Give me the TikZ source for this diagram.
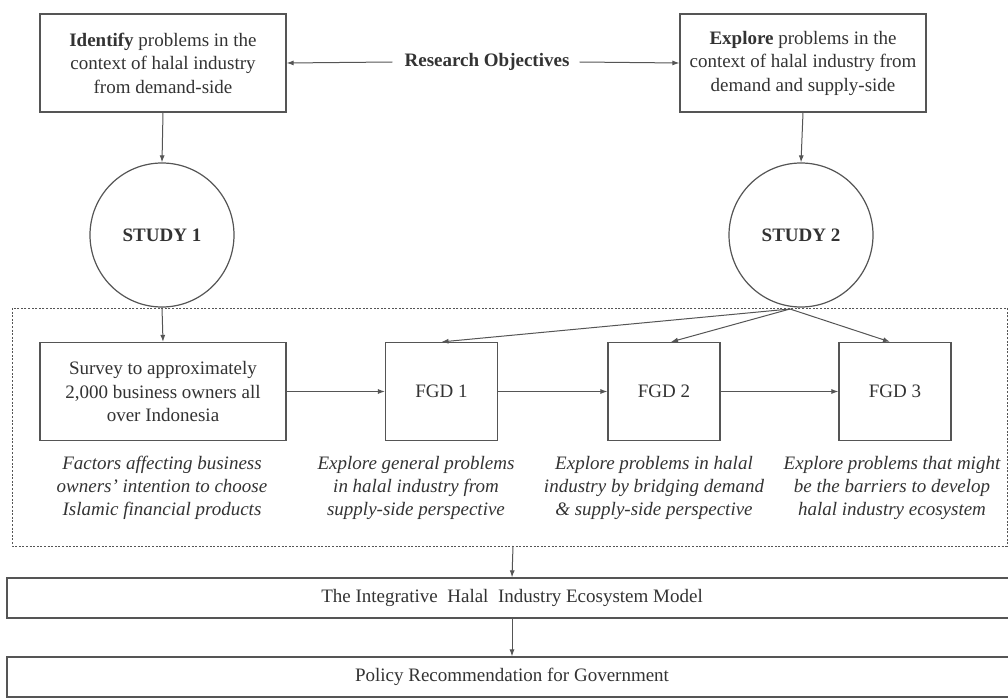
\documentclass[tikz,border=0pt]{standalone}
\usepackage{fontspec}
\setmainfont{Liberation Serif}
\usetikzlibrary{arrows.meta}
\definecolor{ln}{HTML}{555555}
\definecolor{tx}{HTML}{333333}
\tikzset{
  box/.style={draw=ln, line width=1.2pt, minimum width=246pt, minimum height=98pt, align=center, inner sep=0pt, text=tx, font=\fontsize{19}{23.5}\selectfont},
  fgd/.style={draw=ln, line width=1.2pt, minimum width=112pt, minimum height=98pt, align=center, inner sep=0pt, text=tx, font=\fontsize{19}{23.5}\selectfont},
  study/.style={circle, draw=ln, line width=1.2pt, minimum size=144pt, inner sep=0pt, text=tx, font=\fontsize{19}{23.5}\selectfont\bfseries},
  wide/.style={draw=ln, line width=1.2pt, minimum width=1010pt, minimum height=40pt, inner sep=0pt, text=tx, font=\fontsize{19}{23.5}\selectfont},
  lbl/.style={align=center, inner sep=0pt, text=tx, font=\fontsize{19}{23}\selectfont\itshape},
  conn/.style={draw=ln, line width=1pt, -{Latex[length=7pt,width=5pt]}},
}
\begin{document}
\begin{tikzpicture}[x=1pt,y=-1pt]
\useasboundingbox (0,0) rectangle (1008,698);
\fill[white] (0,0) rectangle (1008,698);
% top boxes
\node[box] (ident) at (163,63) {\textbf{Identify} problems in the\\context of halal industry\\from demand-side};
\node[box] (expl) at (803,63) {\textbf{Explore} problems in the\\context of halal industry from\\demand and supply-side};
\node[inner sep=0pt, text=tx, font=\fontsize{19}{23.5}\selectfont\bfseries] (ro) at (487,62) {Research Objectives};
% circles
\node[study] (s1) at (162,235) {STUDY 1};
\node[study] (s2) at (801,235) {STUDY 2};
% dashed frame
\draw[ln, line width=0.9pt, dash pattern=on 2pt off 1.6pt] (12,308) rectangle (1007,546);
\coordinate (frametop) at (513,546);
\coordinate (src) at (790,309);
% lower boxes
\node[box] (survey) at (163,391.5) {Survey to approximately\\2,000 business owners all\\over Indonesia};
\node[fgd] (f1) at (441.5,391.5) {FGD 1};
\node[fgd] (f2) at (664,391.5) {FGD 2};
\node[fgd] (f3) at (895,391.5) {FGD 3};
% labels
\node[lbl] (l0) at (162,488) {Factors affecting business\\owners' intention to choose\\Islamic financial products};
\node[lbl] (l1) at (416,488) {Explore general problems\\in halal industry from\\supply-side perspective};
\node[lbl] (l2) at (654,488) {Explore problems in halal\\industry by bridging demand\\\& supply-side perspective};
\node[lbl] (l3) at (892,488) {Explore problems that might\\be the barriers to develop\\halal industry ecosystem};
% bottom boxes
\node[wide] (model) at (512,598) {The Integrative\ \ Halal\ \ Industry Ecosystem Model};
\node[wide] (policy) at (512,677) {Policy Recommendation for Government};
% connectors
\draw[conn] (ro.west) ++(-12,0) -- (ident.east);
\draw[conn] (ro.east) ++(10,0) -- (expl.west);
\draw[conn] (ident.south) -- (s1.north);
\draw[conn] (expl.south) -- (s2.north);
\draw[conn] (s1.south) -- (survey.north);
\draw[conn] (src) -- (f1.north);
\draw[conn] (src) -- ([xshift=7pt]f2.north);
\draw[conn] (src) -- ([xshift=-5pt]f3.north);
\draw[conn] (survey.east) -- (f1.west);
\draw[conn] (f1.east) -- (f2.west);
\draw[conn] (f2.east) -- (f3.west);
\draw[conn] (frametop) -- (model.north);
\draw[conn] (model.south) -- (policy.north);
\end{tikzpicture}
\end{document}
